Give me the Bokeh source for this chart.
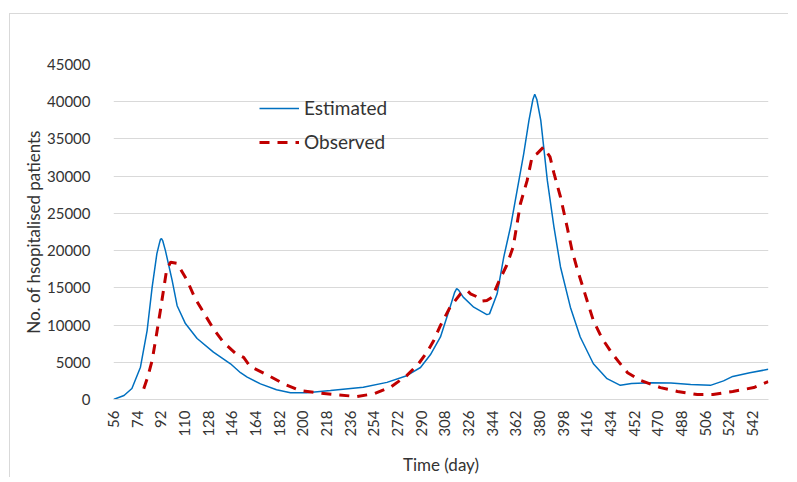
from math import pi
from bokeh.plotting import figure
from bokeh.models import Range1d, FixedTicker, Legend, LegendItem
from bokeh.embed import file_html
from bokeh.resources import INLINE

# Estimated (blue, solid)
est_day = [56, 64, 70, 76.5, 81.6, 85.4, 89, 90.8, 91.7, 92.5, 93.5, 95.5, 100.6, 104.4, 110.7,
           119.6, 132, 145, 152.6, 157.7, 167.8, 180, 190.6, 203, 221, 246, 264, 279,
           289.5, 297, 304.7, 312, 315.5, 317, 318.5, 322, 330, 340, 342, 347.8, 352.8, 358, 363,
           368, 372, 375, 376.4, 378, 381, 386, 391, 396, 403.5, 411, 421, 431.4, 441.5, 450,
           465, 480, 495, 510, 520, 527, 540, 554]
est_val = [0, 540, 1480, 4340, 9300, 15100, 19600, 20900, 21500, 21600, 21300, 20000, 16000, 12600, 10200,
           8200, 6360, 4800, 3600, 3000, 2100, 1300, 900, 900, 1200, 1650, 2300, 3200,
           4300, 6000, 8400, 12400, 14400, 14900, 14700, 13750, 12400, 11400, 11500, 14200, 19100, 23200, 28100,
           33000, 37500, 40300, 41000, 40300, 37500, 29400, 23200, 17800, 12400, 8400, 4800, 2800, 1900, 2150,
           2250, 2200, 2000, 1900, 2500, 3100, 3600, 4050]

# Observed (red, dashed)
obs_day = [79, 82, 85.4, 88.5, 91.7, 96.3, 99.4, 104.4, 112, 118, 124.5, 132, 139.6,
           148.8, 155, 160, 173, 185.5, 198, 213, 226, 241, 254, 266.6, 279, 288, 294.5,
           299.6, 304.7, 312, 320, 325, 327.5, 332.5, 336, 340, 344, 349, 355, 360, 365.5,
           370.6, 374.4, 378, 383, 388, 391, 396, 401, 404.8, 408.6, 413, 421, 427.6, 436,
           447, 457, 472, 485, 500, 512, 527, 543, 554]
obs_val = [1440, 3000, 5240, 8500, 12000, 17300, 18450, 18300, 16000, 13600, 11700, 9500, 7700,
           6200, 5650, 4430, 3300, 2100, 1200, 850, 630, 400, 760, 1650, 3200, 4800, 6360,
           7930, 9950, 12400, 14200, 14650, 14200, 13800, 13200, 13300, 13750, 15800, 18000, 20500, 26300,
           29400, 32600, 33000, 33900, 32600, 30400, 27200, 23200, 20000, 17600, 15100, 10600, 8200, 6000,
           3600, 2550, 1600, 1080, 670, 670, 1080, 1600, 2400]

x_ticks = list(range(56, 543, 18))
y_ticks = list(range(0, 45001, 5000))

FONT = "Lato"
TXT = "#333333"

p = figure(frame_width=655, frame_height=335, output_backend="svg", toolbar_location=None,
           x_range=Range1d(56, 554.2), y_range=Range1d(0, 45000),
           min_border_left=103, min_border_right=20, min_border_top=50, min_border_bottom=70)
p.margin = (13, 0, 0, 9)
p.styles = {"border-left": "1px solid #d9d9d9", "border-top": "1px solid #d9d9d9"}
p.outline_line_color = None
p.background_fill_color = "white"
p.border_fill_color = "white"

p.xgrid.grid_line_color = None
p.ygrid.grid_line_color = "#d9d9d9"
p.ygrid.ticker = FixedTicker(ticks=y_ticks)

p.xaxis.ticker = FixedTicker(ticks=x_ticks)
p.yaxis.ticker = FixedTicker(ticks=y_ticks)
for ax in (p.xaxis, p.yaxis):
    ax.major_tick_line_color = None
    ax.minor_tick_line_color = None
    ax.major_label_text_font = FONT
    ax.major_label_text_font_size = "15px"
    ax.major_label_text_color = TXT
    ax.axis_label_text_font = FONT
    ax.axis_label_text_font_size = "17px"
    ax.axis_label_text_font_style = "normal"
    ax.axis_label_text_color = TXT
p.xaxis.axis_line_color = "#d9d9d9"
p.yaxis.axis_line_color = None
p.xaxis.major_label_orientation = pi / 2
p.xaxis.major_label_standoff = 5
p.yaxis.major_label_standoff = 17
p.xaxis.axis_label = "Time (day)"
p.yaxis.axis_label = "No. of hsopitalised patients"
p.xaxis.axis_label_standoff = 14
p.yaxis.axis_label_standoff = 0

r_est = p.line(est_day, est_val, line_color="#0070C0", line_width=1.5)
r_obs = p.line(obs_day, obs_val, line_color="#C00000", line_width=3, line_dash="10 8")

legend = Legend(items=[LegendItem(label="Estimated", renderers=[r_est]),
                       LegendItem(label="Observed", renderers=[r_obs])],
                location=(146, 246))
legend.border_line_color = None
legend.background_fill_alpha = 0
legend.glyph_width = 40
legend.glyph_height = 20
legend.label_height = 20
legend.spacing = 11
legend.padding = 0
legend.margin = 0
legend.label_standoff = 5
legend.label_text_font = FONT
legend.label_text_font_size = "19px"
legend.label_text_color = TXT
p.add_layout(legend)

open("out.html", "w").write(file_html(p, INLINE))
